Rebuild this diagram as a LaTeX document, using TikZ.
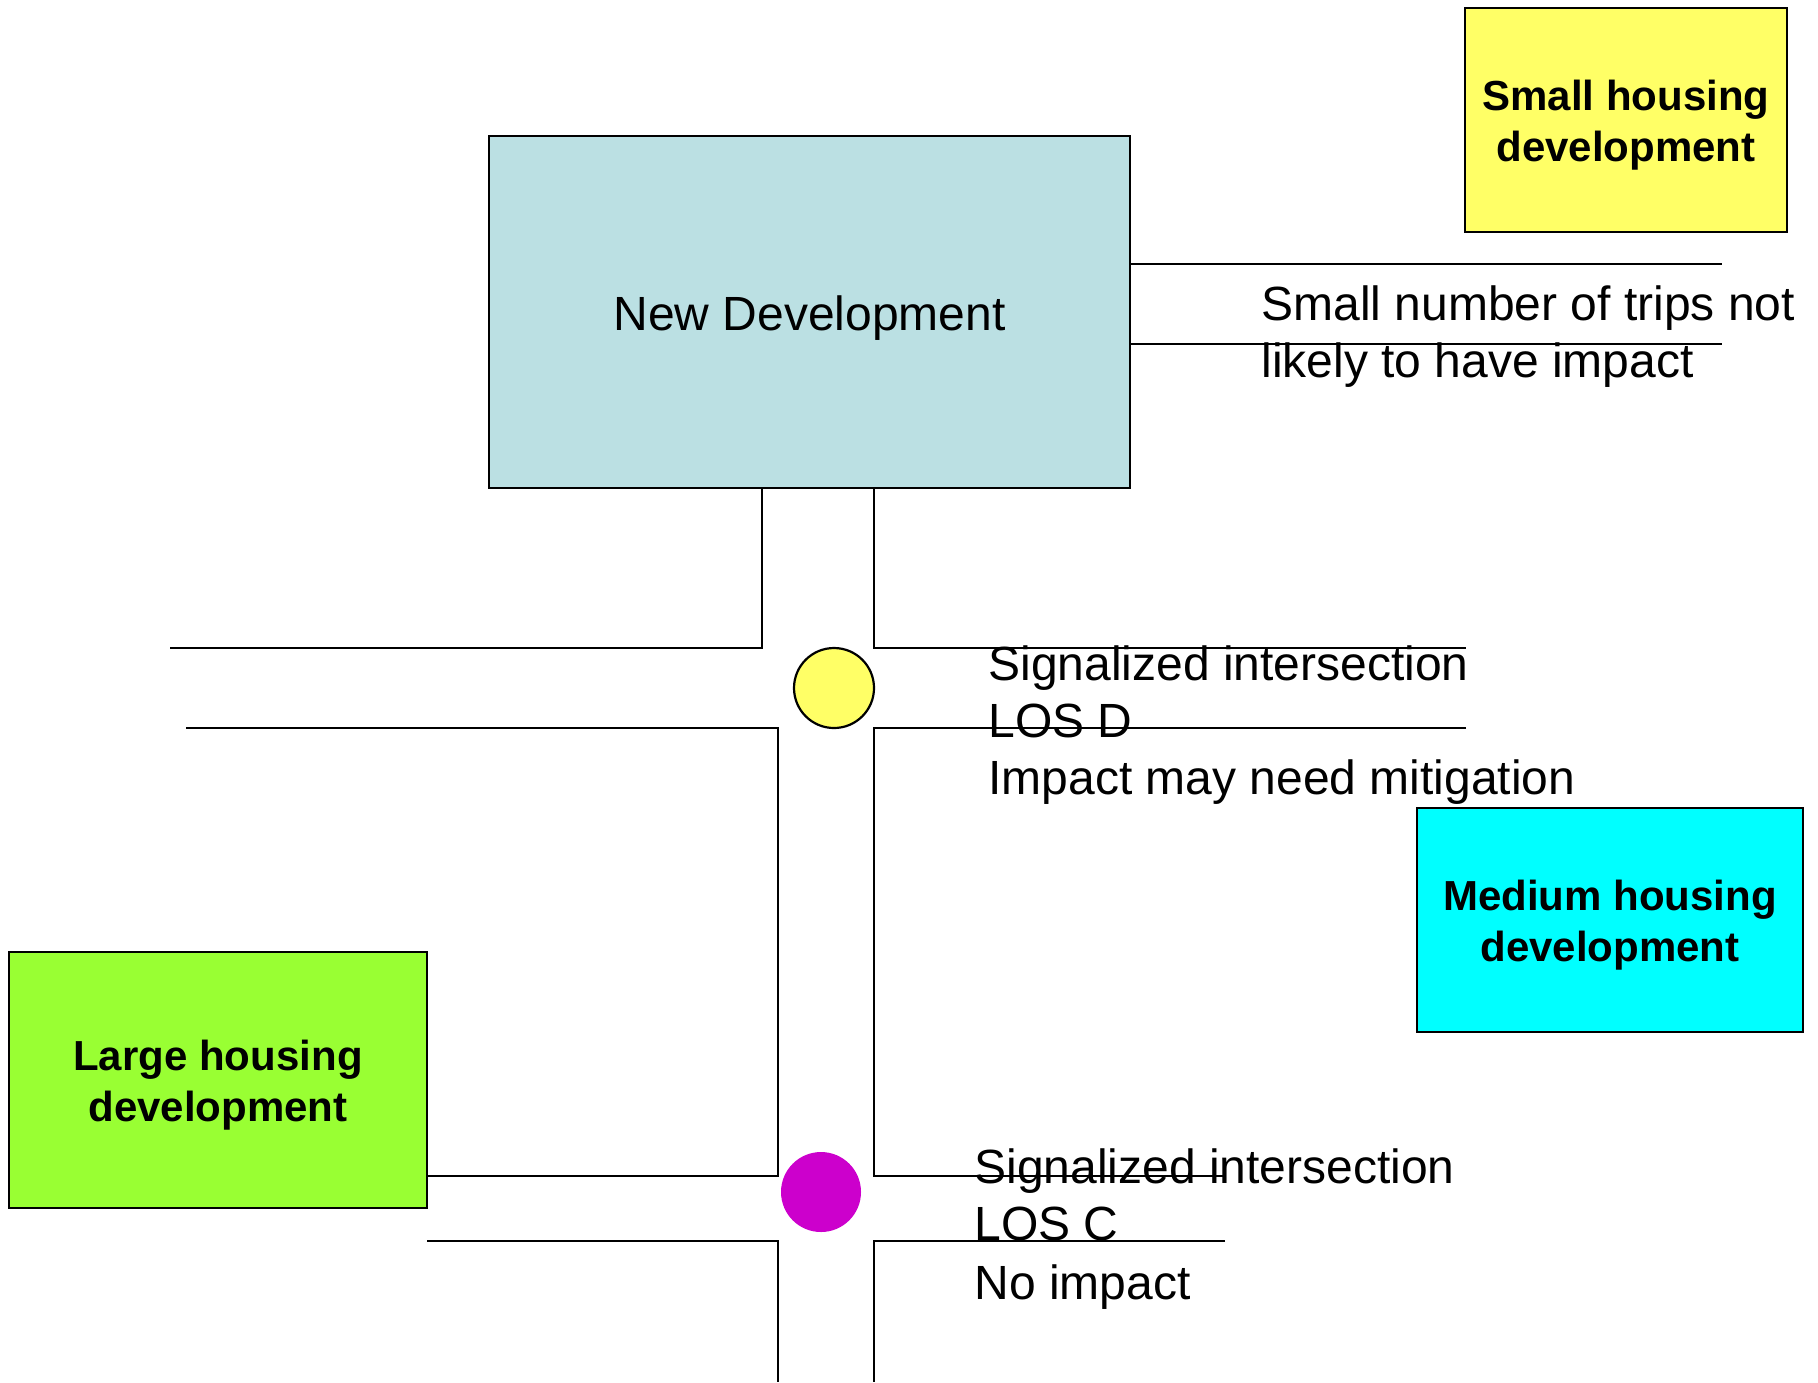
\documentclass[tikz,border=0pt]{standalone}
\usepackage{fontspec}
\setmainfont{Liberation Sans}
\definecolor{devteal}{HTML}{BBE0E3}
\definecolor{smallyellow}{HTML}{FFFF66}
\definecolor{medcyan}{HTML}{00FFFF}
\definecolor{largegreen}{HTML}{99FF33}
\definecolor{sigmagenta}{HTML}{CC00CC}
\begin{document}
\begin{tikzpicture}[x=0.5pt,y=-0.5pt,
  road/.style={line width=1.1pt},
  housebox/.style={draw, line width=1.1pt, inner sep=0pt},
  housetext/.style={inner sep=0pt, align=center,
    font=\bfseries\fontsize{21}{25.5}\selectfont},
  lbl/.style={anchor=base west, inner sep=0pt, font=\fontsize{24}{28}\selectfont},
  signal/.style={circle, inner sep=0pt, minimum size=40pt}]
\useasboundingbox (0,0) rectangle (1818,1382);

% development boxes
\node[draw, line width=1.1pt, fill=devteal, minimum width=320.5pt, minimum height=176pt,
      inner sep=0pt] (newdev) at (809.5,312) {};
\node[inner sep=0pt, font=\fontsize{24}{28}\selectfont] (newdevtext)
      at ([yshift=-3pt]newdev.center) {New Development};
\node[housebox, fill=smallyellow, minimum width=161pt, minimum height=112pt] (small) at (1626,120) {};
\node[housetext] (smalltext) at ([yshift=-2.5pt]small.center) {Small housing\\development};
\node[housebox, fill=medcyan, minimum width=193pt, minimum height=112pt] (medium) at (1610,920) {};
\node[housetext] (mediumtext) at ([yshift=-2.5pt]medium.center) {Medium housing\\development};
\node[housebox, fill=largegreen, minimum width=209pt, minimum height=128pt] (large) at (218,1080) {};
\node[housetext] (largetext) at ([yshift=-2.5pt]large.center) {Large housing\\development};

% road corners and free ends
\coordinate (nl) at (762,648);
\coordinate (nr) at (874,648);
\coordinate (nlend) at (170,648);
\coordinate (nrend) at (1466,648);
\coordinate (sl) at (778,728);
\coordinate (slend) at (186,728);
\coordinate (sr) at (874,728);
\coordinate (srend) at (1466,728);
\coordinate (ll) at (778,1176);
\coordinate (lr) at (874,1176);
\coordinate (lrend) at (1225,1176);
\coordinate (bl) at (778,1241);
\coordinate (blend) at (427,1241);
\coordinate (br) at (874,1241);
\coordinate (brend) at (1225,1241);
\coordinate (bldown) at (778,1382);
\coordinate (brdown) at (874,1382);
\coordinate (et) at (1722,264);
\coordinate (eb) at (1722,344);

% access road to the east
\draw[road] (newdev.east |- et) -- (et);
\draw[road] (newdev.east |- eb) -- (eb);

% access road to the south and the main street
\draw[road] (newdev.south -| nl) -- (nl) -- (nlend);
\draw[road] (newdev.south -| nr) -- (nr) -- (nrend);
\draw[road] (slend) -- (sl) -- (ll) -- (large.east |- ll);
\draw[road] (srend) -- (sr) -- (lr) -- (lrend);
\draw[road] (blend) -- (bl) -- (bldown);
\draw[road] (brend) -- (br) -- (brdown);

% signals
\node[signal, draw, line width=1.1pt, fill=smallyellow] (sigd) at (834,688) {};
\node[signal, fill=sigmagenta] (sigc) at (821,1192) {};

% labels
\node[lbl] (t1) at (1261,320) {Small number of trips not};
\node[lbl] (t2) at (1261,377) {likely to have impact};
\node[lbl] (d1) at (988,680) {Signalized intersection};
\node[lbl] (d2) at (988,737) {LOS D};
\node[lbl] (d3) at (988,794) {Impact may need mitigation};
\node[lbl] (c1) at (974,1183) {Signalized intersection};
\node[lbl] (c2) at (974,1240) {LOS C};
\node[lbl] (c3) at (974,1299) {No impact};
\end{tikzpicture}
\end{document}
